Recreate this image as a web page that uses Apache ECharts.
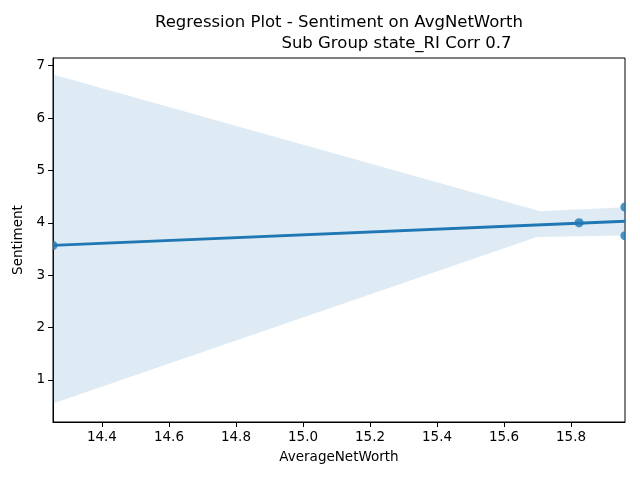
<!DOCTYPE html>
<html>
<head>
<meta charset="utf-8">
<script src="https://cdn.jsdelivr.net/npm/echarts@6/dist/echarts.min.js"></script>
<style>
  html, body { margin: 0; padding: 0; background: #fff; }
  #main { width: 640px; height: 480px; }
</style>
</head>
<body>
<div id="main"></div>
<script>
// observed points
const pointX = [14.254, 15.824, 15.961, 15.961]
const pointY = [3.569, 4.0, 4.302, 3.754]
// fitted line end points
const lineX = [14.254, 15.961]
const lineY = [3.569, 4.030]
// confidence band edges
const upperX = [14.254, 15.708, 15.961]
const upperY = [6.83, 4.22, 4.30]
const lowerX = [14.254, 15.698, 15.961]
const lowerY = [0.55, 3.73, 3.76]
// axis extents
const xRange = [14.254, 15.961]
const yRange = [0.198, 7.147]

const blue = '#1f77b4'
const font = 'DejaVu Sans'

const chart = echarts.init(document.getElementById('main'))

chart.setOption({
  animation: false,
  backgroundColor: '#fff',
  textStyle: { fontFamily: font },
  graphic: [
    { type: 'text', x: 339, y: 14, style: { text: 'Regression Plot - Sentiment on AvgNetWorth', font: '16.5px "DejaVu Sans"', fill: '#000', align: 'center' } },
    { type: 'text', x: 396.5, y: 35, style: { text: 'Sub Group state_RI Corr 0.7', font: '16.5px "DejaVu Sans"', fill: '#000', align: 'center' } }
  ],
  grid: { left: 53, right: 15, top: 58, bottom: 58, show: true, borderColor: '#000', borderWidth: 1, containLabel: false },
  xAxis: {
    type: 'value', min: xRange[0], max: xRange[1], splitNumber: 8,
    name: 'AverageNetWorth', nameLocation: 'middle', nameGap: 28,
    nameTextStyle: { fontFamily: font, fontSize: 13.5, color: '#000' },
    axisLine: { show: true, lineStyle: { color: '#000', width: 1 } },
    axisTick: { show: true, length: 5, lineStyle: { color: '#000' } },
    axisLabel: { showMinLabel: false, showMaxLabel: false, color: '#000', fontFamily: font, fontSize: 13.5, margin: 8, formatter: v => v.toFixed(1) },
    splitLine: { show: false }
  },
  yAxis: {
    type: 'value', min: yRange[0], max: yRange[1], splitNumber: 7,
    name: 'Sentiment', nameLocation: 'middle', nameGap: 25,
    nameTextStyle: { fontFamily: font, fontSize: 13.5, color: '#000' },
    axisLine: { show: true, lineStyle: { color: '#000', width: 1 } },
    axisTick: { show: true, length: 5, lineStyle: { color: '#000' } },
    axisLabel: { showMinLabel: false, showMaxLabel: false, color: '#000', fontFamily: font, fontSize: 13.5, margin: 8, formatter: v => String(Math.round(v)) },
    splitLine: { show: false }
  },
  series: [
    {
      // confidence band polygon
      type: 'custom', z: 1, clip: true, silent: true,
      data: [[upperX[0], upperY[0]]],
      renderItem: (params, api) => {
        const pts = []
        upperX.forEach((x, i) => pts.push(api.coord([x, upperY[i]])))
        for (let i = lowerX.length - 1; i >= 0; i--) pts.push(api.coord([lowerX[i], lowerY[i]]))
        return { type: 'polygon', shape: { points: pts }, style: { fill: 'rgba(31,119,180,0.15)', stroke: null } }
      }
    },
    {
      // scatter points, clipped at the frame
      type: 'custom', z: 2, clip: true,
      data: pointX.map((x, i) => [x, pointY[i]]),
      renderItem: (params, api) => {
        const c = api.coord([api.value(0), api.value(1)])
        return { type: 'circle', shape: { cx: c[0], cy: c[1], r: 4.6 }, style: { fill: blue, opacity: 0.8 } }
      }
    },
    {
      type: 'line', z: 3, clip: true, symbol: 'none',
      data: lineX.map((x, i) => [x, lineY[i]]),
      lineStyle: { color: blue, width: 2.8 }
    }
  ]
})
</script>
</body>
</html>
